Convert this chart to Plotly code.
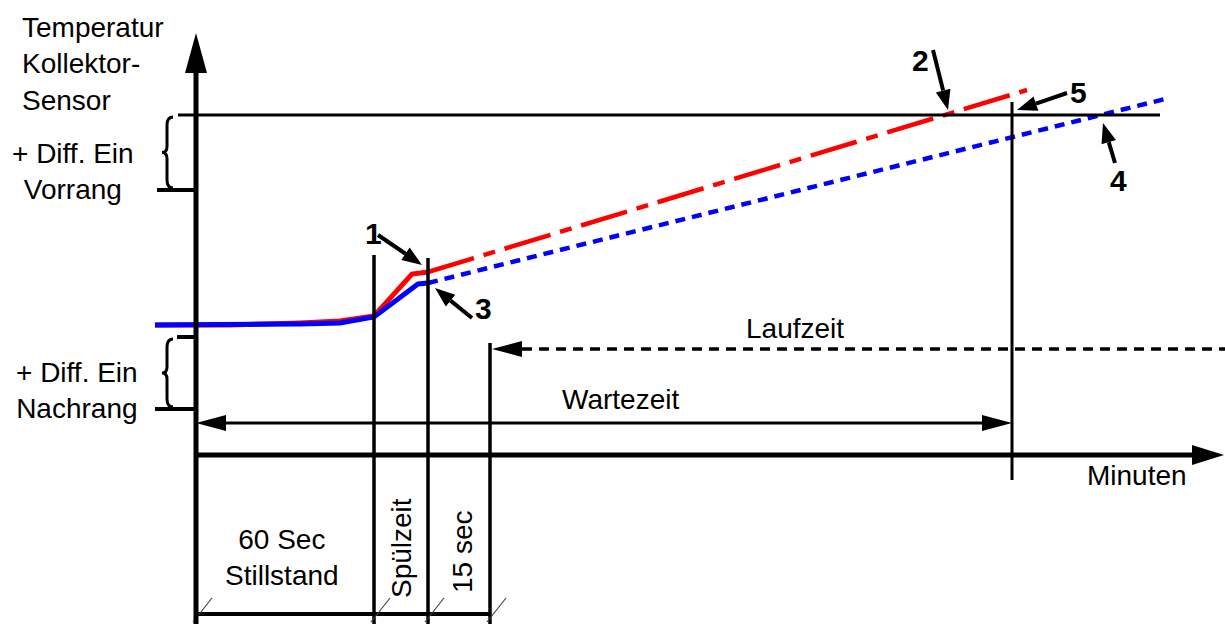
import plotly.graph_objects as go
import math

# ---- diagram data (x = time units from origin, y = temperature units) ----
# time markers: end of standstill, end of flushing, end of 15 s, end of waiting time
t_markers = [178, 232, 294, 816]
marker_tops = [200, 197, 112, 353]
# temperature levels
thr_vorrang = 340          # upper level (+Diff Ein Vorrang)
lo_vorrang = 265
hi_nachrang = 118
lo_nachrang = 46
y_laufzeit = 106
y_wartezeit = 32

# collector sensor curves (solid part)
red_x = [-41, 34, 104, 144, 178, 216, 232]
red_y = [130, 130, 132, 134, 139, 181, 183]
blue_x = [-41, 34, 104, 144, 178, 222, 232]
blue_y = [130, 130, 131, 132, 138, 171, 172]
# projected parts
red_ext_x = [232, 831]
red_ext_y = [183, 365]
blue_ext_x = [232, 969]
blue_ext_y = [172, 356]

# numbered callouts: label position, arrow tail, arrow tip
callout_labels = ["1", "2", "3", "4", "5"]
callout_pos = [(177, 222), (724, 395), (287, 147), (922, 275), (882, 363)]
callout_tail = [(182, 220), (737, 405), (276, 137), (919, 292), (871, 362)]
callout_tip = [(226, 190), (752, 345), (239, 167), (907, 332), (821, 345)]

FONT = "Liberation Sans, Arial, sans-serif"
XR = [-196, 1029]
YR = [-169, 455]

fig = go.Figure()
shapes = []
annotations = []


def line(x0, y0, x1, y1, w=3, color="black", dash="solid"):
    shapes.append(dict(type="line", x0=x0, y0=y0, x1=x1, y1=y1, xref="x", yref="y",
                       line=dict(color=color, width=w, dash=dash)))


def head(tx, ty, fx, fy, L=28, W=16):
    dx, dy = tx - fx, ty - fy
    n = math.hypot(dx, dy)
    dx, dy = dx / n, dy / n
    bx, by = tx - L * dx, ty - L * dy
    px, py = -dy, dx
    p1 = (bx + W / 2 * px, by + W / 2 * py)
    p2 = (bx - W / 2 * px, by - W / 2 * py)
    shapes.append(dict(type="path", xref="x", yref="y",
                       path=f"M {tx},{ty} L {p1[0]},{p1[1]} L {p2[0]},{p2[1]} Z",
                       fillcolor="black", line=dict(width=0)))
    return bx, by


def arrow(fx, fy, tx, ty, w=4, L=20, W=15):
    bx, by = head(tx, ty, fx, fy, L, W)
    line(fx, fy, bx, by, w)


def brace(x_tip, y_top, y_bot, w=3):
    xm = x_tip + 5
    xr = x_tip + 11
    ym = (y_top + y_bot) / 2
    p = (f"M {xr},{y_top} Q {xm},{y_top} {xm},{y_top-8} L {xm},{ym+6} "
         f"Q {xm},{ym} {x_tip},{ym} Q {xm},{ym} {xm},{ym-6} L {xm},{y_bot+8} "
         f"Q {xm},{y_bot} {xr},{y_bot}")
    shapes.append(dict(type="path", xref="x", yref="y", path=p,
                       line=dict(color="black", width=w)))


def text(x, y, s, size=28, bold=False, angle=0, xanchor="center", yanchor="middle", align="center"):
    annotations.append(dict(x=x, y=y, xref="x", yref="y", text=s, showarrow=False,
                            textangle=angle, xanchor=xanchor, yanchor=yanchor, align=align,
                            font=dict(family=FONT, size=size, color="black",
                                      weight="bold" if bold else "normal")))


# threshold line and level ticks
line(-18, thr_vorrang, 964, thr_vorrang, 3)
line(-39, lo_vorrang, 0, lo_vorrang, 4)
line(-19, hi_nachrang, 0, hi_nachrang, 4)
line(-41, lo_nachrang, 0, lo_nachrang, 4)
brace(-34, thr_vorrang - 2, lo_vorrang + 2)
brace(-34, hi_nachrang - 2, lo_nachrang + 2)

# time marker verticals
for i, (t, top) in enumerate(zip(t_markers, marker_tops)):
    if i < 3:
        line(t, top, t, -170, 3.5)
    else:
        line(t, top, t, -25, 3)

# bottom baseline and slashes
line(0, -159, t_markers[2], -159, 4)
for t in [0] + t_markers[:3]:
    line(t - 3, -167, t + 16, -143, 1.2, color="#444")

# Laufzeit (dashed, arrow to the left)
bx, by = head(t_markers[2] + 2, y_laufzeit, XR[1], y_laufzeit, 30, 16)
line(bx, by, XR[1] + 20, y_laufzeit, 3.5, dash="10px,7px")
# Wartezeit (double arrow)
b1 = head(0, y_wartezeit, t_markers[3], y_wartezeit, 30, 16)
b2 = head(t_markers[3], y_wartezeit, 0, y_wartezeit, 30, 16)
line(b1[0], y_wartezeit, b2[0], y_wartezeit, 3)

# axes with arrows
bx, by = head(0, 422, 0, 0, 40, 22)
line(0, -170, 0, by, 5)
bx, by = head(1028, 0, 0, 0, 32, 20)
line(0, 0, bx, by, 5)

# curves
fig.add_trace(go.Scatter(x=red_ext_x, y=red_ext_y, mode="lines",
                         line=dict(color="#ff0000", width=4.5, dash="48px,10px,12px,10px"),
                         hoverinfo="skip"))
fig.add_trace(go.Scatter(x=blue_ext_x, y=blue_ext_y, mode="lines",
                         line=dict(color="#0000ff", width=4.5, dash="10px,7px"),
                         hoverinfo="skip"))
fig.add_trace(go.Scatter(x=red_x, y=red_y, mode="lines",
                         line=dict(color="#ff0000", width=5), hoverinfo="skip"))
fig.add_trace(go.Scatter(x=blue_x, y=blue_y, mode="lines",
                         line=dict(color="#0000ff", width=5), hoverinfo="skip"))

# callouts
for lab, pos, tail, tip in zip(callout_labels, callout_pos, callout_tail, callout_tip):
    arrow(tail[0], tail[1], tip[0], tip[1])
    text(pos[0], pos[1], lab, size=30, bold=True)

# texts
text(-176, 391, "Temperatur<br>Kollektor-<br>Sensor", xanchor="left", align="left")
text(-123, 284, "+ Diff. Ein<br>Vorrang")
text(-119, 65, "+ Diff. Ein<br>Nachrang")
text(599, 127, "Laufzeit")
text(424, 56, "Wartezeit")
text(941, -20, "Minuten")
text(86, -102, "60 Sec<br>Stillstand")
text(205, -93, "Spülzeit", angle=-90)
text(266, -97, "15 sec", angle=-90)

fig.update_layout(
    width=1225, height=624,
    margin=dict(l=0, r=0, t=0, b=0),
    paper_bgcolor="white", plot_bgcolor="white",
    showlegend=False, hovermode=False,
    shapes=shapes, annotations=annotations,
    xaxis=dict(range=XR, visible=False, fixedrange=True),
    yaxis=dict(range=YR, visible=False, fixedrange=True),
)
fig.write_html("out.html", config={"displayModeBar": False},
               post_script="document.body.style.margin='0';document.body.style.overflow='hidden';")
